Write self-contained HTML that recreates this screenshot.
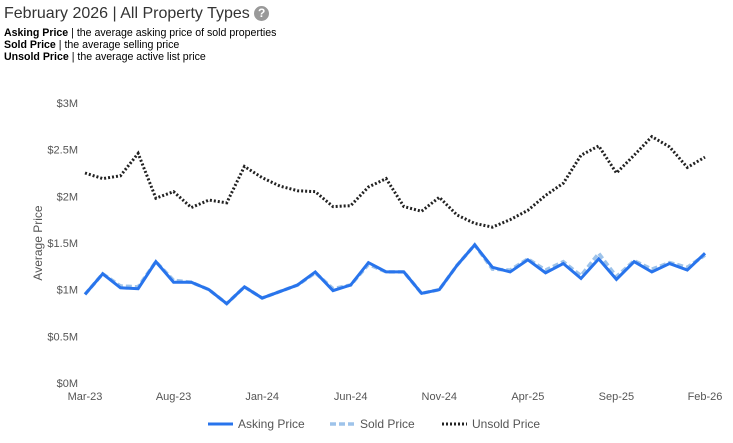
<!DOCTYPE html>
<html><head><meta charset="utf-8"><style>
body{margin:0;background:#fff;font-family:"Liberation Sans",Arial,sans-serif;}
#wrap{position:relative;width:733px;height:443px;overflow:hidden}
.t{position:absolute;left:4px;top:5px;font-size:16px;color:#333}
.d{position:absolute;left:4px;font-size:10.6px;color:#000}
.d b{font-weight:bold}
</style></head><body>
<div id="wrap">
<div class="t">February 2026 | All Property Types <span style="display:inline-block;width:15px;height:15px;border-radius:50%;background:#999;color:#fff;font-size:12px;font-weight:bold;text-align:center;line-height:15px;vertical-align:1px">?</span></div>
<div class="d" style="top:27px"><b>Asking Price</b> | the average asking price of sold properties</div>
<div class="d" style="top:39px"><b>Sold Price</b> | the average selling price</div>
<div class="d" style="top:51px"><b>Unsold Price</b> | the average active list price</div>
<svg id="svg" width="733" height="443" style="position:absolute;left:0;top:0"></svg>
</div>
<script>
const months=["Mar-23","Apr-23","May-23","Jun-23","Jul-23","Aug-23","Sep-23","Oct-23","Nov-23","Dec-23","Jan-24","Feb-24","Mar-24","Apr-24","May-24","Jun-24","Jul-24","Aug-24","Sep-24","Oct-24","Nov-24","Dec-24","Jan-25","Feb-25","Mar-25","Apr-25","May-25","Jun-25","Jul-25","Aug-25","Sep-25","Oct-25","Nov-25","Dec-25","Jan-26","Feb-26"];
const asking=[0.95,1.17,1.02,1.01,1.30,1.08,1.08,1.00,0.85,1.03,0.91,0.98,1.05,1.19,0.99,1.05,1.29,1.19,1.19,0.96,1.00,1.26,1.48,1.24,1.19,1.32,1.18,1.28,1.12,1.33,1.11,1.30,1.19,1.28,1.21,1.39];
const sold=[0.95,1.17,1.04,1.03,1.30,1.10,1.08,1.00,0.85,1.03,0.91,0.98,1.05,1.18,1.01,1.05,1.27,1.19,1.19,0.96,1.00,1.26,1.48,1.22,1.21,1.33,1.21,1.30,1.15,1.39,1.14,1.31,1.22,1.29,1.24,1.37];
const unsold=[2.25,2.19,2.22,2.46,1.98,2.05,1.88,1.96,1.93,2.32,2.20,2.11,2.06,2.05,1.89,1.90,2.10,2.19,1.89,1.84,1.99,1.80,1.71,1.67,1.75,1.85,2.01,2.14,2.44,2.54,2.25,2.44,2.64,2.53,2.31,2.42];
const yTicks=[0,0.5,1,1.5,2,2.5,3];
const yTickLabels=["$0M","$0.5M","$1M","$1.5M","$2M","$2.5M","$3M"];
const xTickIdx=[0,5,10,15,20,25,30,35];
const L=85,R=705,T=103,B=383;
const xs=i=>L+(R-L)*i/(months.length-1);
const ys=v=>B-(B-T)*v/3;
const svg=document.getElementById('svg');
const NS='http://www.w3.org/2000/svg';
function mk(tag,attrs,txt){const e=document.createElementNS(NS,tag);for(const k in attrs)e.setAttribute(k,attrs[k]);if(txt!==undefined)e.textContent=txt;svg.appendChild(e);return e;}
yTicks.forEach((v,i)=>{const e=mk('text',{x:78,y:ys(v)+4,'text-anchor':'end','font-size':11,fill:'#555','font-family':'Liberation Sans'},yTickLabels[i]);

});
xTickIdx.forEach(i=>{const e=mk('text',{x:xs(i),y:400,'text-anchor':'middle','font-size':11,fill:'#555','font-family':'Liberation Sans'},months[i]);

});
const yt=mk('text',{x:0,y:0,transform:'translate(42,243) rotate(-90)','text-anchor':'middle','font-size':12,fill:'#555','font-family':'Liberation Sans'},'Average Price');


function line(arr,attrs){return mk('polyline',Object.assign({points:arr.map((v,i)=>xs(i)+','+ys(v)).join(' '),fill:'none'},attrs));}
const u=line(unsold,{stroke:'#222','stroke-width':3,'stroke-dasharray':'2,2'});


const s=line(sold,{stroke:'#9ec3ea','stroke-width':3.5,'stroke-dasharray':'6,3'});


const a=line(asking,{stroke:'#2874ec','stroke-width':3});


const lg=[["Asking Price",{stroke:'#2874ec','stroke-width':3},208],["Sold Price",{stroke:'#9ec3ea','stroke-width':3.5,'stroke-dasharray':'6,3'},330],["Unsold Price",{stroke:'#222','stroke-width':3,'stroke-dasharray':'2,2'},442]];
lg.forEach(([n,st,x])=>{const g=mk('line',Object.assign({x1:x,y1:424,x2:x+25,y2:424},st));


const t=mk('text',{x:x+30,y:428,'font-size':12,fill:'#555','font-family':'Liberation Sans'},n);

});
</script>
</body></html>
